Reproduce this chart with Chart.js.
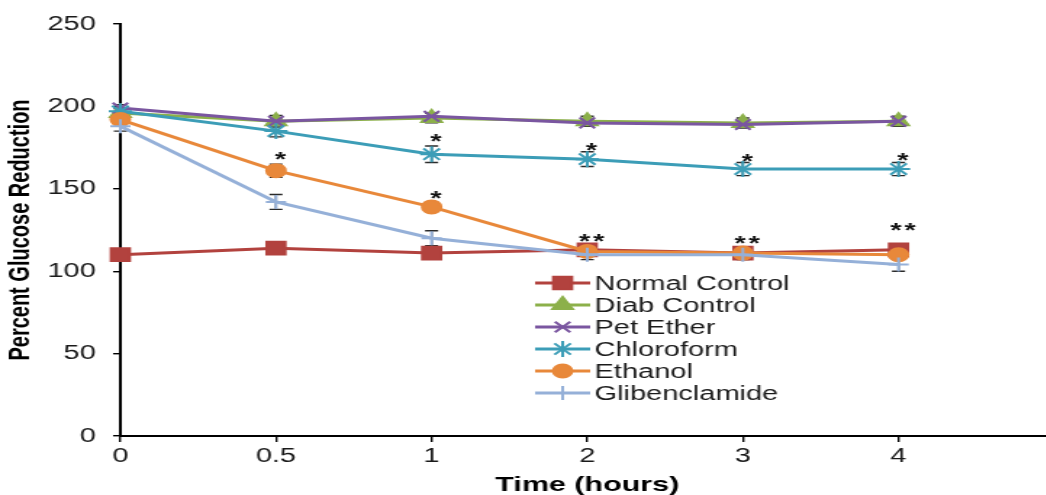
<!DOCTYPE html>
<html><head><meta charset="utf-8">
<script src="https://cdn.jsdelivr.net/npm/chart.js@4/dist/chart.umd.min.js"></script>
<style>
html,body{margin:0;padding:0;background:#fff;overflow:hidden;width:1046px;height:495px;}
#wrap{position:absolute;left:0;top:0;width:1046px;height:495px;overflow:hidden;background:#fff;}
#c{position:absolute;left:0;top:0;transform:scaleX(1.45);transform-origin:0 0;}
</style></head><body>
<div id="wrap"><canvas id="c" width="738" height="500" style="width:738px;height:500px"></canvas></div>
<script>
// ---- data ----
const timeLabels = ['0', '0.5', '1', '2', '3', '4', ''];
const seriesNames = ['Normal Control', 'Diab Control', 'Pet Ether', 'Chloroform', 'Ethanol', 'Glibenclamide'];
const normalControl = [110, 114, 111, 113, 111, 113];
const diabControl   = [196, 191, 193, 191, 190, 191];
const petEther      = [199, 191, 194, 190, 189, 191];
const chloroform    = [197, 185, 171, 168, 162, 162];
const ethanol       = [192, 161, 139, 112, 111, 110];
const glibenclamide = [188, 142, 120, 110, 110, 104];
const errNormal        = [1.5, 2, 1.5, 2, 2, 2];
const errDiab          = [2.5, 3.5, 3, 3, 3, 3];
const errPetEther      = [2, 2, 2, 2, 2, 2];
const errChloroform    = [2, 3.5, 5, 4.5, 4, 4];
const errEthanol       = [2, 4, 3, 3, 3, 3];
const errGlibenclamide = [3, 4.5, 4.5, 3, 3, 4];
const sigIndex = [1, 2, 2, 3, 3, 4, 4, 5, 5];
const sigValue = [171, 181.5, 147, 176, 121, 169.5, 120, 170, 127.5];
const sigText  = ['*', '*', '*', '*', '**', '*', '**', '*', '**'];
const yMin = 0, yMax = 250, yStep = 50;

// ---- styles ----
const colors = ['#B2423E', '#8CB04A', '#7A56A0', '#3C9DB7', '#E8883A', '#95B0D8'];
const pointStyles = ['rect', 'triangle', 'crossRot', 'star', 'circle', 'cross'];
const pointRadii = [9, 8, 7.5, 8, 6.5, 7];
const seriesValues = [normalControl, diabControl, petEther, chloroform, ethanol, glibenclamide];
const seriesErrors = [errNormal, errDiab, errPetEther, errChloroform, errEthanol, errGlibenclamide];
const FONT = "'Liberation Sans', Arial, sans-serif";

const datasets = seriesNames.map((name, i) => ({
  label: name,
  data: seriesValues[i],
  borderColor: colors[i],
  backgroundColor: colors[i],
  pointBackgroundColor: colors[i],
  pointBorderColor: colors[i],
  pointStyle: pointStyles[i],
  pointRadius: pointRadii[i],
  pointBorderWidth: 2,
  borderWidth: 3,
  tension: 0,
  clip: false,
  order: seriesNames.length - i,
  errors: seriesErrors[i]
}));

const extrasPlugin = {
  id: 'extras',
  beforeDatasetsDraw(chart) {
    const ctx = chart.ctx;
    const xs = chart.scales.x, ys = chart.scales.y;
    ctx.save();
    ctx.strokeStyle = '#2a2a2a';
    ctx.lineWidth = 1.4;
    chart.data.datasets.forEach(ds => {
      ds.data.forEach((v, j) => {
        const e = ds.errors[j];
        const x = xs.getPixelForValue(j);
        const y1 = ys.getPixelForValue(v + e), y2 = ys.getPixelForValue(v - e);
        ctx.beginPath();
        ctx.moveTo(x, y1); ctx.lineTo(x, y2);
        ctx.moveTo(x - 4.5, y1); ctx.lineTo(x + 4.5, y1);
        ctx.moveTo(x - 4.5, y2); ctx.lineTo(x + 4.5, y2);
        ctx.stroke();
      });
    });
    ctx.restore();
  },
  afterDatasetsDraw(chart) {
    const ctx = chart.ctx;
    const xs = chart.scales.x, ys = chart.scales.y;
    ctx.save();
    ctx.fillStyle = '#111';
    ctx.font = 'bold 20px ' + FONT;
    ctx.textAlign = 'center';
    ctx.textBaseline = 'middle';
    try { ctx.letterSpacing = '2px'; } catch (e) {}
    sigText.forEach((t, k) => {
      const x = xs.getPixelForValue(sigIndex[k]) + 4;
      const y = ys.getPixelForValue(sigValue[k]) + 6;
      ctx.fillText(t, x, y);
    });
    ctx.restore();
  },
  afterDraw(chart) {
    const ctx = chart.ctx;
    const dp = Chart.helpers && Chart.helpers.drawPoint;
    ctx.save();
    chart.data.datasets.forEach((ds, i) => {
      const y = 283 + 22 * i;
      ctx.strokeStyle = ds.borderColor;
      ctx.lineWidth = 3;
      ctx.beginPath(); ctx.moveTo(369, y); ctx.lineTo(407, y); ctx.stroke();
      ctx.fillStyle = ds.pointBackgroundColor;
      ctx.strokeStyle = ds.pointBorderColor;
      ctx.lineWidth = 2;
      if (dp) dp(ctx, {pointStyle: ds.pointStyle, radius: ds.pointRadius, rotation: 0, borderWidth: 2}, 388, y);
      ctx.fillStyle = '#1a1a1a';
      ctx.font = '20px ' + FONT;
      ctx.textAlign = 'left';
      ctx.textBaseline = 'middle';
      ctx.fillText(ds.label, 410, y + 1);
    });
    ctx.restore();
  }
};

new Chart(document.getElementById('c'), {
  type: 'line',
  data: { labels: timeLabels, datasets },
  plugins: [extrasPlugin],
  options: {
    responsive: false,
    animation: false,
    devicePixelRatio: 1,
    layout: { padding: { top: 20, right: 2, left: 0, bottom: 0 } },
    plugins: { legend: { display: false }, tooltip: { enabled: false } },
    scales: {
      x: {
        type: 'category',
        offset: false,
        afterFit: s => { s.height = 64; },
        grid: { display: true, drawOnChartArea: false, drawTicks: true, tickLength: 6, color: '#000', lineWidth: 1.4, offset: false },
        border: { display: true, color: '#000', width: 2 },
        ticks: { color: '#1a1a1a', font: { family: FONT, size: 20 }, padding: 2, maxRotation: 0, autoSkip: false },
        title: { display: true, text: 'Time (hours)', color: '#000', font: { family: FONT, size: 21, weight: 'bold' }, padding: { top: 0, bottom: 2 } }
      },
      y: {
        min: yMin, max: yMax,
        afterFit: s => { s.width = 83; },
        grid: { display: true, drawOnChartArea: false, drawTicks: true, tickLength: 5, color: '#000', lineWidth: 1.4 },
        border: { display: true, color: '#000', width: 2 },
        ticks: { stepSize: yStep, color: '#1a1a1a', font: { family: FONT, size: 20 }, padding: 12 },
        title: { display: true, text: 'Percent Glucose Reduction', color: '#000', font: { family: FONT, size: 20, weight: 'bold' }, padding: { top: 2, bottom: 0 } }
      }
    }
  }
});
</script>
</body></html>
